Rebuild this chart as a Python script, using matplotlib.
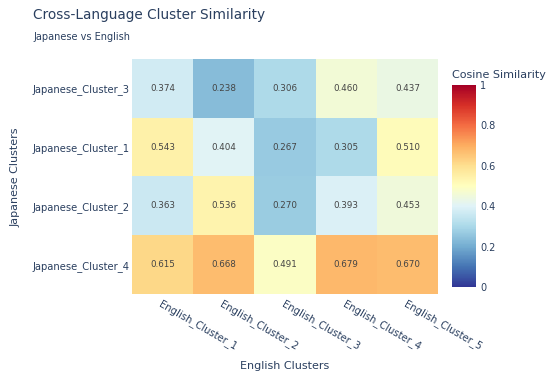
import numpy as np
import matplotlib
matplotlib.use("Agg")
import matplotlib.pyplot as plt
from matplotlib.colors import Normalize

x_labels = ["English_Cluster_1", "English_Cluster_2", "English_Cluster_3",
            "English_Cluster_4", "English_Cluster_5"]
y_labels = ["Japanese_Cluster_3", "Japanese_Cluster_1", "Japanese_Cluster_2",
            "Japanese_Cluster_4"]
row_j3 = [0.374, 0.238, 0.306, 0.460, 0.437]
row_j1 = [0.543, 0.404, 0.267, 0.305, 0.510]
row_j2 = [0.363, 0.536, 0.270, 0.393, 0.453]
row_j4 = [0.615, 0.668, 0.491, 0.679, 0.670]
cbar_ticks = [0, 0.2, 0.4, 0.6, 0.8, 1]
cbar_ticklabels = ["0", "0.2", "0.4", "0.6", "0.8", "1"]

values = np.array([row_j3, row_j1, row_j2, row_j4])

plt.rcParams['font.family'] = ['DejaVu Sans']
txt = '#2a3f5f'

W, H = 550, 378
fig = plt.figure(figsize=(W / 100, H / 100), dpi=100)

ax = fig.add_axes([132 / W, 1 - 294 / H, 306 / W, 235 / H])
cmap = plt.get_cmap('RdYlBu_r')
norm = Normalize(0, 1)
im = ax.imshow(values, cmap=cmap, norm=norm, aspect='auto')

for i in range(values.shape[0]):
    for j in range(values.shape[1]):
        ax.text(j, i, f"{values[i, j]:.3f}", ha='center', va='center',
                fontsize=6.3, color='#444444')

ax.set_xticks(range(len(x_labels)))
ax.set_yticks(range(len(y_labels)))
ax.set_yticklabels(y_labels, fontsize=7.2, color=txt)
ax.set_xticklabels(x_labels, fontsize=7.2, color=txt, rotation=-30,
                   ha='left', va='top', rotation_mode='anchor')
ax.tick_params(axis='y', length=0, pad=2)
ax.tick_params(axis='x', length=0, pad=3)
for s in ax.spines.values():
    s.set_visible(False)

fig.text(285 / W, 1 - 366 / H, "English Clusters", ha='center', va='center',
         fontsize=8, color=txt)
fig.text(16 / W, 1 - 177 / H, "Japanese Clusters", ha='center', va='center',
         rotation=90, fontsize=8, color=txt)

fig.text(33 / W, 1 - 15 / H, "Cross-Language Cluster Similarity", ha='left',
         va='center', fontsize=9.8, color=txt)
fig.text(33 / W, 1 - 37 / H, "Japanese vs English", ha='left', va='center',
         fontsize=7, color=txt)

cax = fig.add_axes([452 / W, 1 - 287 / H, 24 / W, 202 / H])
cb = fig.colorbar(im, cax=cax)
cb.outline.set_visible(False)
cb.set_ticks(cbar_ticks)
cb.set_ticklabels(cbar_ticklabels)
cax.tick_params(length=0, labelsize=7, labelcolor=txt, pad=3)
fig.text(452 / W, 1 - 75 / H, "Cosine Similarity", ha='left', va='center',
         fontsize=8, color=txt)

fig.savefig("out.png", dpi=100)
